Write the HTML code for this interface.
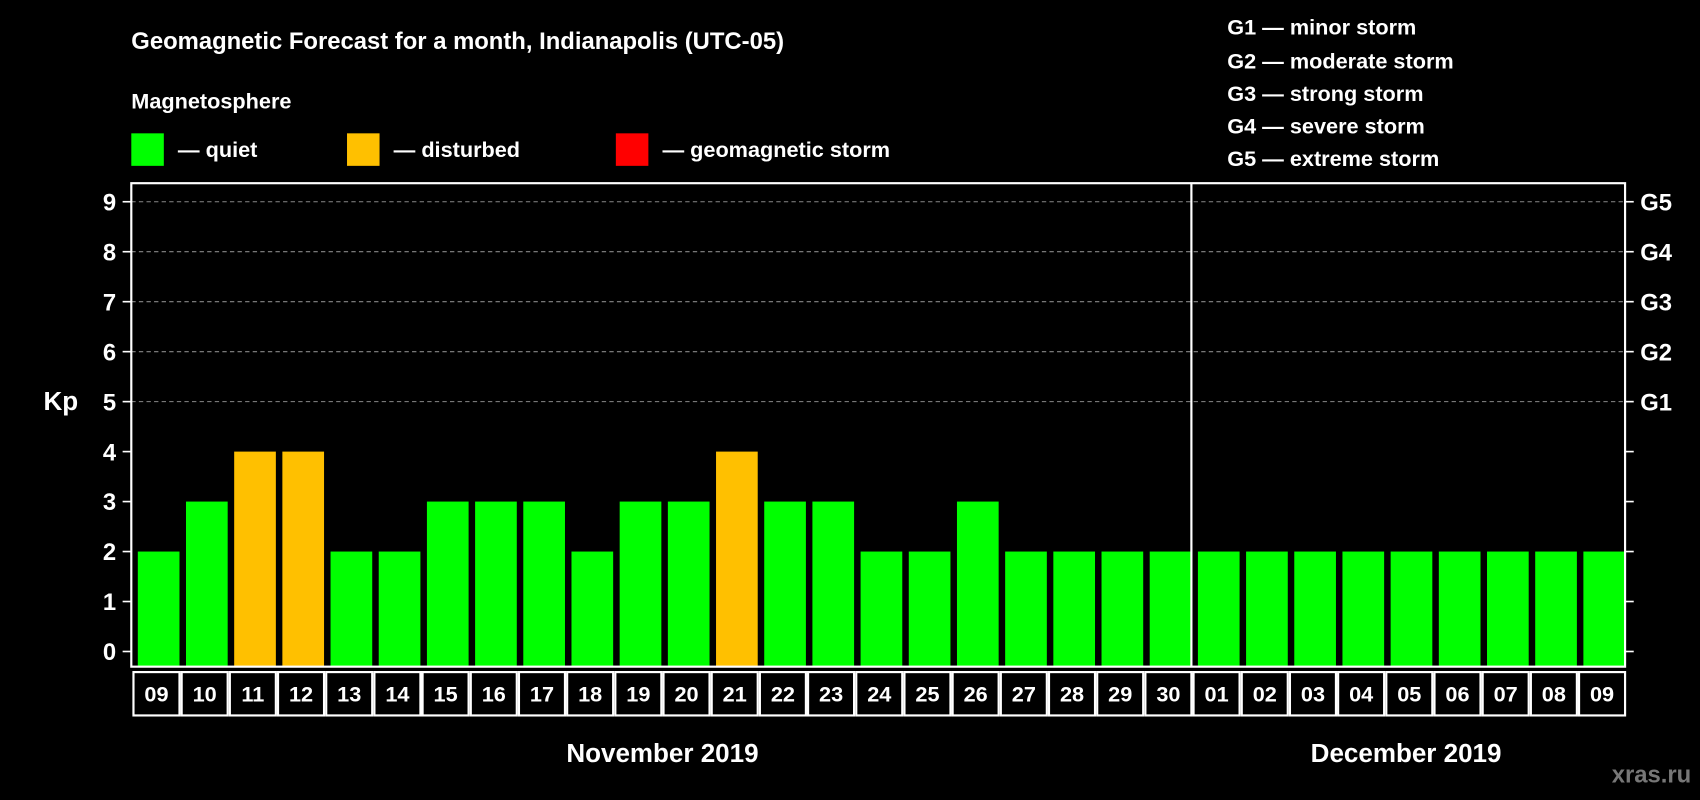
<!DOCTYPE html>
<html><head><meta charset="utf-8"><style>
html,body{margin:0;padding:0;background:#000;}
svg{display:block;font-family:"Liberation Sans",Arial,sans-serif;font-weight:bold;}
</style></head><body>
<svg id="chart" width="1700" height="800" viewBox="0 0 1568 738" xmlns="http://www.w3.org/2000/svg">
<rect width="1568" height="738" fill="#000"/>
<text x="121" y="45" fill="#fff" font-size="22">Geomagnetic Forecast for a month, Indianapolis (UTC-05)</text>
<text x="121" y="100" fill="#fff" font-size="20">Magnetosphere</text>
<g><rect x="121" y="123" width="30" height="30" fill="#00ff00"/><text x="164" y="145" fill="#fff" font-size="20">— quiet</text></g>
<g><rect x="320" y="123" width="30" height="30" fill="#ffc000"/><text x="363" y="145" fill="#fff" font-size="20">— disturbed</text></g>
<g><rect x="568" y="123" width="30" height="30" fill="#ff0000"/><text x="611" y="145" fill="#fff" font-size="20">— geomagnetic storm</text></g>
<g fill="#fff" font-size="20">
<text x="1132" y="32">G1 — minor storm</text>
<text x="1132" y="63">G2 — moderate storm</text>
<text x="1132" y="93">G3 — strong storm</text>
<text x="1132" y="123">G4 — severe storm</text>
<text x="1132" y="153">G5 — extreme storm</text>
</g>
<text x="40" y="378" fill="#fff" font-size="24">Kp</text>
<g id="grid"></g>
<g id="bars"></g>
<g id="axes"></g>
<text x="611" y="703" fill="#fff" font-size="24" text-anchor="middle">November 2019</text>
<text x="1297" y="703" fill="#fff" font-size="24" text-anchor="middle">December 2019</text>
<text x="1560" y="722" fill="#777" font-size="22" text-anchor="end">xras.ru</text>
</svg>
<script>
const days = ["09","10","11","12","13","14","15","16","17","18","19","20","21","22","23","24","25","26","27","28","29","30","01","02","03","04","05","06","07","08","09"];
const kpValues = [2,3,4,4,2,2,3,3,3,2,3,3,4,3,3,2,2,3,2,2,2,2,2,2,2,2,2,2,2,2,2];
const yTicks = [0,1,2,3,4,5,6,7,8,9];
const gLabels = ["G1","G2","G3","G4","G5"];
const gLevels = [5,6,7,8,9];
const NS="http://www.w3.org/2000/svg";
const L=121,R=1499,T=169,B=615,Y0=601,UNIT=46.1;
const slot=(R-L)/days.length;
const y=v=>Y0-v*UNIT;
const x=i=>L+i*slot;
function mk(tag,attrs,parent){const e=document.createElementNS(NS,tag);for(const k in attrs)e.setAttribute(k,attrs[k]);parent.appendChild(e);return e;}
const grid=document.getElementById('grid'),bars=document.getElementById('bars'),axes=document.getElementById('axes');
gLevels.forEach(v=>{
  const l=mk('line',{x1:L,x2:R,y1:y(v),y2:y(v),stroke:'#888','stroke-dasharray':'4,3','stroke-width':1},grid);
  
  
});
kpValues.forEach((v,i)=>{
  const c=v>=5?'#ff0000':(v>=4?'#ffc000':'#00ff00');
  const r=mk('rect',{x:x(i)+6,y:y(v),width:slot-6,height:B-y(v),fill:c},bars);
  
  
});
const frame=mk('rect',{x:L,y:T,width:R-L,height:B-T,fill:'none',stroke:'#fff','stroke-width':2},axes);


const div=mk('line',{x1:x(22),x2:x(22),y1:T,y2:B,stroke:'#fff','stroke-width':2},axes);


yTicks.forEach(v=>{
  mk('line',{x1:L-8,x2:L,y1:y(v),y2:y(v),stroke:'#fff','stroke-width':1.5},axes);
  mk('line',{x1:R,x2:R+8,y1:y(v),y2:y(v),stroke:'#fff','stroke-width':1.5},axes);
  const t=mk('text',{x:L-14,y:y(v)+8,fill:'#fff','font-size':22,'text-anchor':'end'},axes);
  t.textContent=v;
  
  
});
gLabels.forEach((g,i)=>{
  const t=mk('text',{x:R+14,y:y(gLevels[i])+8,fill:'#fff','font-size':22},axes);
  t.textContent=g;
  
  
});
days.forEach((d,i)=>{
  const c=mk('rect',{x:x(i)+2,y:620,width:slot-2,height:40,fill:'none',stroke:'#fff','stroke-width':2},axes);
  
  
  const t=mk('text',{x:x(i)+slot/2+1,y:647,fill:'#fff','font-size':20,'text-anchor':'middle'},axes);
  t.textContent=d;
  
  
});
</script>
</body></html>
